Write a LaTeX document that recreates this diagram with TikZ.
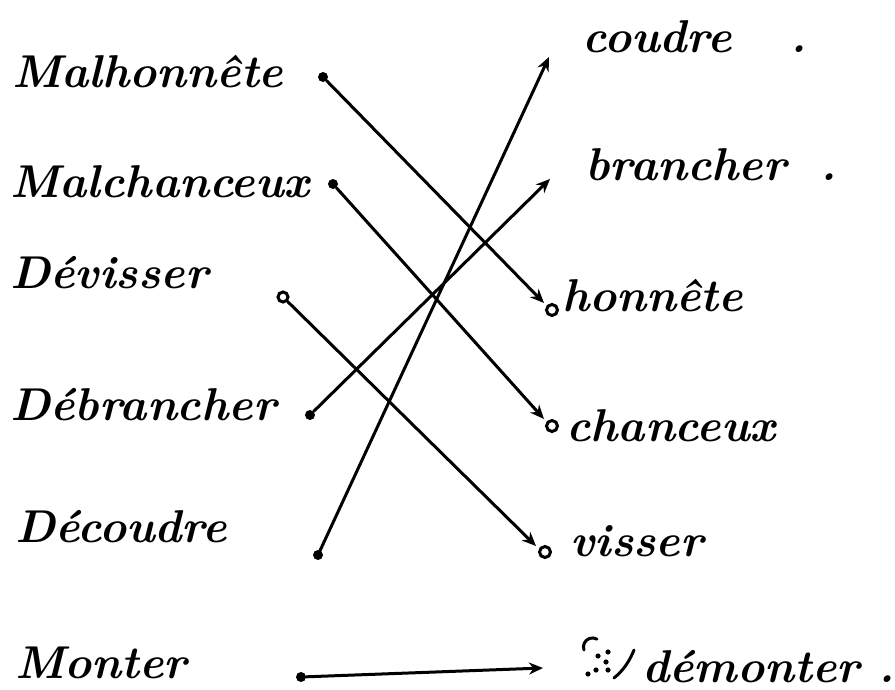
\documentclass[tikz,border=0pt]{standalone}
\usetikzlibrary{arrows.meta}
\begin{document}
\begin{tikzpicture}[x=1pt,y=-1pt,
  word/.style={anchor=base west,inner sep=0pt,font=\fontsize{46}{48}\selectfont\bfseries\itshape},
  link/.style={line width=3pt,line cap=round,-{Stealth[length=14pt,width=12pt]}},
  tail/.style={circle,fill,inner sep=0pt,minimum size=10pt},
  ring/.style={circle,draw,line width=3pt,inner sep=0pt,minimum size=11pt}]
\useasboundingbox (0,0) rectangle (895,690);
\fill[white] (0,0) rectangle (895,690);
% left words
\node[word] (L1) at (12,88) {Malhonnête};
\node[word] (L2) at (10,197) {Malchanceux};
\node[word] (L3) at (10,288) {Dévisser};
\node[word] (L4) at (10,420) {Débrancher};
\node[word] (L5) at (15,542) {Découdre};
\node[word] (L6) at (15,678) {Monter};
% right words
\node[word] (R1) at (582,53) {coudre};
\node[word] (P1) at (790,53) {.};
\node[word] (R2) at (585,181) {brancher};
\node[word] (P2) at (820,181) {.};
\node[word] (R3) at (562,311) {honnête};
\node[word] (R4) at (566,441) {chanceux};
\node[word] (R5) at (570,556) {visser};
\node[word] (R6) at (642,682) {démonter};
\node[word] (P6) at (878,682) {.};
% scribble before "démonter"
\draw[line width=3pt,line cap=round] (584,650) arc[start angle=200,end angle=60,radius=9pt];
\fill (598,656) circle (2.6pt) (608,652) circle (2.6pt) (606,662) circle (2.6pt)
      (596,670) circle (2.6pt) (608,670) circle (2.6pt) (588,674) circle (2.6pt);
\draw[line width=3pt,line cap=round] (614,678) .. controls (624,670) and (630,660) .. (634,650);
% tails
\node[tail] (a1) at (323,77) {};
\node[tail] (a2) at (333,184) {};
\node[tail,draw,fill=white,line width=3pt,minimum size=10pt] (a3) at (283,297) {};
\node[tail] (a4) at (310,415) {};
\node[tail] (a5) at (318,555) {};
\node[tail] (a6) at (301,677) {};
% heads
\coordinate (b1) at (544,303);
\coordinate (b2) at (544,419);
\coordinate (b3) at (536,546);
\coordinate (b4) at (550,179);
\coordinate (b5) at (549,57);
\coordinate (b6) at (543,668);
\node[ring] at (552,310) {};
\node[ring] at (552,426) {};
\node[ring] at (545,552) {};
% connectors
\draw[link] (a1) -- (b1);
\draw[link] (a2) -- (b2);
\draw[link] (a3) -- (b3);
\draw[link] (a4) -- (b4);
\draw[link] (a5) -- (b5);
\draw[link] (a6) -- (b6);
\end{tikzpicture}
\end{document}
